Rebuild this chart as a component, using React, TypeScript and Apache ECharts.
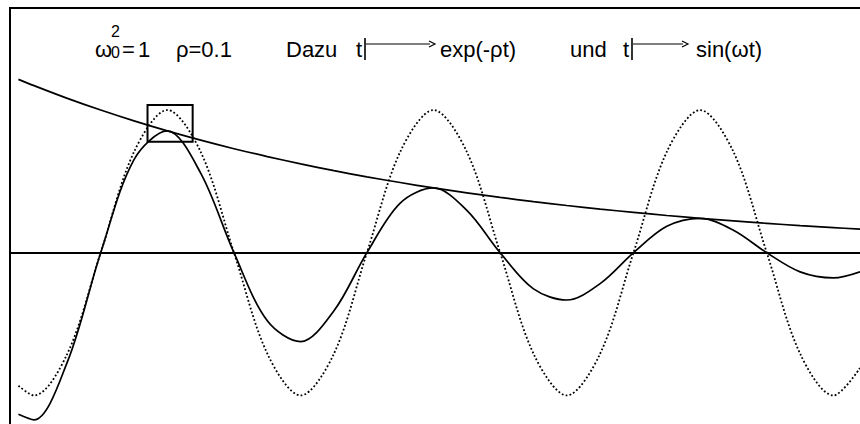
import React, { useEffect, useRef } from "react";
import * as echarts from "echarts";

// Sample times t (one eighth of a period apart) and the three curves read at them
const tValues = [
  -1.95, -1.58, -0.79, 0, 0.79, 1.58, 2.37, 3.16, 3.95, 4.74, 5.53, 6.31, 7.1,
  7.89, 8.68, 9.47, 10.26, 11.05, 11.84, 12.63, 13.42, 14.21, 15.0, 15.79,
  16.58, 17.37, 18.0,
];
const sinValues = [
  -0.932, -1, -0.707, 0, 0.707, 1, 0.707, 0, -0.707, -1, -0.707, 0, 0.707, 1,
  0.707, 0, -0.707, -1, -0.707, 0, 0.707, 1, 0.707, 0, -0.707, -1, -0.807,
];
const expValues = [
  1.215, 1.171, 1.082, 1, 0.924, 0.854, 0.789, 0.729, 0.674, 0.623, 0.575,
  0.532, 0.492, 0.454, 0.42, 0.388, 0.358, 0.331, 0.306, 0.283, 0.261, 0.241,
  0.223, 0.206, 0.19, 0.176, 0.165,
];
const dampedValues = [
  -1.132, -1.171, -0.765, 0, 0.653, 0.854, 0.558, 0, -0.477, -0.623, -0.407, 0,
  0.348, 0.454, 0.297, 0, -0.253, -0.331, -0.216, 0, 0.185, 0.241, 0.158, 0,
  -0.134, -0.176, -0.133,
];

// Highlighted region around the first maximum (t range, value range)
const focusBoxT = [1.11, 2.18];
const focusBoxY = [0.778, 1.035];

const T_MIN = -2.15;
const T_MAX = 18.0;
const Y_MIN = -1.2;
const Y_MAX = 1.75;
const PX_PER_T = 42.28;
const PX_PER_UNIT = 144;

const pairs = (vals: number[]) => tValues.map((t, i) => [t, vals[i]]);

const FONT = '"Liberation Sans", Arial, sans-serif';

export default function App() {
  const ref = useRef<HTMLDivElement>(null);

  useEffect(() => {
    if (!ref.current) return;
    const chart = echarts.init(ref.current, null, { renderer: "svg" });

    const txt = (text: string, x: number, y: number, size = 22) => ({
      type: "text",
      silent: true,
      style: {
        text,
        x,
        y,
        font: `${size}px ${FONT}`,
        fill: "#000",
        align: "left",
        verticalAlign: "middle",
        textAlign: "left",
        textVerticalAlign: "middle",
      },
    });
    const seg = (x1: number, y1: number, x2: number, y2: number, w = 2) => ({
      type: "line",
      silent: true,
      shape: { x1, y1, x2, y2 },
      style: { stroke: "#000", lineWidth: w },
    });
    const arrow = (x: number, lineEnd: number) => [
      txt("t", x, 49),
      seg(x + 9, 38, x + 9, 60, 1.6),
      seg(x + 10, 44, lineEnd, 44, 1.2),
      {
        type: "polyline",
        silent: true,
        shape: { points: [[lineEnd - 1, 41], [lineEnd + 5, 44], [lineEnd - 1, 47]] },
        style: { stroke: "#000", lineWidth: 1.2, fill: "none" },
      },
    ];

    const lineBase = {
      type: "line",
      smooth: 0.33,
      showSymbol: false,
      silent: true,
      animation: false,
    };

    chart.setOption({
      animation: false,
      backgroundColor: "#fff",
      grid: {
        left: 10,
        top: 3,
        width: (T_MAX - T_MIN) * PX_PER_T,
        height: (Y_MAX - Y_MIN) * PX_PER_UNIT,
        containLabel: false,
      },
      xAxis: {
        type: "value",
        min: T_MIN,
        max: T_MAX,
        axisLine: { show: true, onZero: true, lineStyle: { color: "#000", width: 2 } },
        axisTick: { show: false },
        axisLabel: { show: false },
        splitLine: { show: false },
      },
      yAxis: {
        type: "value",
        min: Y_MIN,
        max: Y_MAX,
        axisLine: { show: false },
        axisTick: { show: false },
        axisLabel: { show: false },
        splitLine: { show: false },
      },
      series: [
        {
          ...lineBase,
          name: "exp(-ρt)",
          data: pairs(expValues),
          lineStyle: { color: "#000", width: 1.7 },
        },
        {
          ...lineBase,
          name: "sin(ωt)",
          data: pairs(sinValues),
          lineStyle: { color: "#000", width: 1.8, type: [1.8, 2.2] },
          markArea: {
            silent: true,
            itemStyle: { color: "rgba(0,0,0,0)", borderColor: "#000", borderWidth: 2 },
            data: [
              [
                { coord: [focusBoxT[0], focusBoxY[1]] },
                { coord: [focusBoxT[1], focusBoxY[0]] },
              ],
            ],
          },
        },
        {
          ...lineBase,
          name: "exp(-ρt)·sin(ωt)",
          data: pairs(dampedValues),
          lineStyle: { color: "#000", width: 1.7 },
        },
      ],
      graphic: [
        // frame
        seg(9, 8, 860, 8, 2),
        seg(10, 7, 10, 424, 2),
        // heading
        txt("ω", 95, 49),
        txt("2", 111, 31, 16),
        txt("0", 111, 52, 16),
        txt("=", 122, 49),
        txt("1", 138, 49),
        txt("ρ=0.1", 176, 49),
        txt("Dazu", 286, 49),
        ...arrow(356, 430),
        txt("exp(-ρt)", 440, 49),
        txt("und", 570, 49),
        ...arrow(623, 683),
        txt("sin(ωt)", 696, 49),
      ],
    });

    return () => chart.dispose();
  }, []);

  return (
    <div
      ref={ref}
      style={{ position: "absolute", left: 0, top: 0, width: 860, height: 424, background: "#fff" }}
    />
  );
}
